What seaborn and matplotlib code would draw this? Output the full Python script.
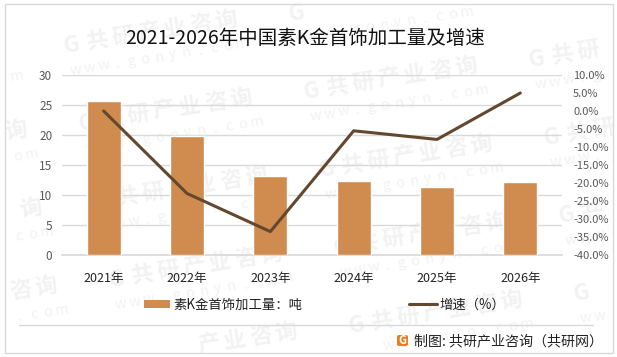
import numpy as np
import pandas as pd
import matplotlib
matplotlib.use('Agg')
import matplotlib.pyplot as plt
from matplotlib.patches import Rectangle, FancyBboxPatch
from matplotlib.lines import Line2D
import seaborn as sns

years = ['2021年', '2022年', '2023年', '2024年', '2025年', '2026年']
output_tons = [25.6, 19.8, 13.1, 12.4, 11.4, 12.1]
growth_pct = [0.0, -22.9, -33.5, -5.5, -7.9, 5.0]
left_ticks = [0, 5, 10, 15, 20, 25, 30]
right_ticks = [-40, -35, -30, -25, -20, -15, -10, -5, 0, 5, 10]

title = '2021-2026年中国素K金首饰加工量及增速'
bar_label = '素K金首饰加工量：吨'
line_label = '增速（%）'
source = '制图: 共研产业咨询（共研网）'
mark_name = 'G共研产业咨询'
mark_site = 'www.gonyn.com'

W, H = 617, 357
bar_color = '#d08b4e'
line_color = '#634830'
grid_color = '#d9d9d9'
mark_color = '#f2f2f2'

sns.set_theme(style='white')
plt.rcParams['font.family'] = ['Noto Sans CJK SC', 'DejaVu Sans']

df = pd.DataFrame({'year': years, 'output': output_tons, 'growth': growth_pct})

fig = plt.figure(figsize=(W / 100, H / 100), dpi=100, facecolor='white')

def fx(x):
    return x / W

def fy(y):
    return 1 - y / H

def spell(text, x0, y0, step, size, weight):
    # one glyph at a time so that glyphs past the edge are just left out
    ang = np.radians(9)
    for k, ch in enumerate(text):
        x = x0 + k * step * np.cos(ang)
        y = y0 - k * step * np.sin(ang)
        if 10 < x < W - 10 and 10 < y < H - 10:
            fig.text(fx(x), fy(y), ch, fontsize=size, fontweight=weight, color=mark_color,
                     rotation=9, ha='center', va='center', zorder=-1)

# watermark tiles behind the chart
for i in range(-2, 4):
    for j in range(-1, 5):
        cx = 72 + i * 225 + j * 15
        cy = 45 - i * 32 + j * 78
        spell(mark_name, cx, cy, 26, 16, 'bold')
        spell(mark_site, cx + 4, cy + 25, 14, 10.5, 'normal')

# outer frame and footer rule
fig.add_artist(Rectangle((fx(4.5), fy(352.5)), 608 / W, 349 / H, transform=fig.transFigure,
                         fill=False, ec=grid_color, lw=1))
fig.add_artist(Line2D([fx(19), fx(593)], [fy(324.5), fy(324.5)], color=grid_color, lw=1))

ax = fig.add_axes([fx(62), fy(255), 500 / W, 180 / H], zorder=2)
ax.patch.set_alpha(0)
sns.barplot(data=df, x='year', y='output', color=bar_color, saturation=1, width=0.41, ax=ax, zorder=3)
ax.set_xlim(-0.5, 5.5)
ax.set_ylim(0, 30)
ax.set_yticks(left_ticks)
ax.set_xlabel('')
ax.set_ylabel('')
ax.grid(axis='y', color=grid_color, lw=1)
ax.set_axisbelow(True)
sns.despine(ax=ax, left=True, top=True, right=True)
ax.spines['bottom'].set_color(grid_color)
ax.tick_params(axis='y', length=0, pad=7, labelsize=8.5, labelcolor='#595959')
ax.tick_params(axis='x', length=0, pad=12, labelsize=9, labelcolor='#222222')

ax2 = ax.twinx()
ax2.set_zorder(3)
ax2.patch.set_alpha(0)
sns.lineplot(x=np.arange(len(years)), y=df['growth'], color=line_color, lw=2.2, ax=ax2, errorbar=None)
ax2.set_ylim(-40, 10)
ax2.set_yticks(right_ticks)
ax2.set_yticklabels([f'{t:.1f}%' for t in right_ticks])
ax2.set_ylabel('')
ax2.tick_params(axis='y', length=0, pad=8, labelsize=8, labelcolor='#595959')
sns.despine(ax=ax2, left=True, top=True, right=True, bottom=True)

fig.text(fx(305.5), fy(38), title, fontsize=14, color='#111111', ha='center', va='center')

# legend, laid out by hand to keep the wide gap between the two entries
fig.add_artist(Rectangle((fx(144), fy(308)), 26 / W, 8 / H, transform=fig.transFigure,
                         fc=bar_color, ec='none'))
fig.text(fx(173), fy(305), bar_label, fontsize=9.6, color='#222222', ha='left', va='center')
fig.add_artist(Line2D([fx(409), fx(437)], [fy(304), fy(304)], color=line_color, lw=2.2))
fig.text(fx(439), fy(305), line_label, fontsize=9.6, color='#222222', ha='left', va='center')

# logo and source line
fig.add_artist(FancyBboxPatch((fx(397), fy(346)), 11 / W, 11 / H, transform=fig.transFigure,
                              boxstyle='round,pad=0,rounding_size=0.004', fc='#ee7a22', ec='none'))
fig.text(fx(402.5), fy(340.5), 'G', fontsize=8, fontweight='bold', color='white', ha='center', va='center')
fig.text(fx(414), fy(341), source, fontsize=10.1, color='#222222', ha='left', va='center')

fig.savefig('out.png', dpi=100)
